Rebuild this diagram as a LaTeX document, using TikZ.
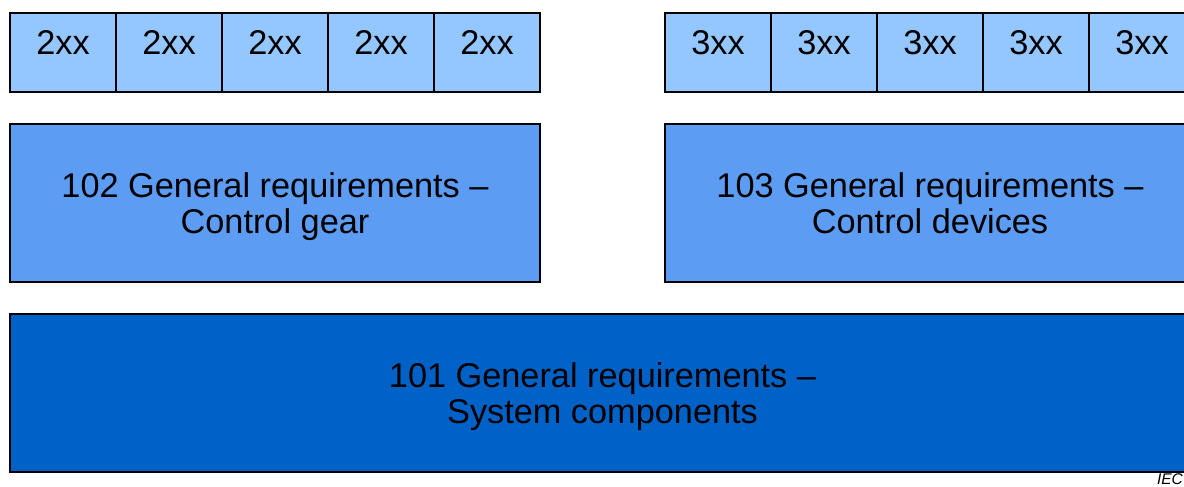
\documentclass[tikz,border=0pt]{standalone}
\usepackage{xcolor}
\usepackage{fontspec}
\setmainfont{Liberation Sans}
\definecolor{partlight}{RGB}{148,199,255}
\definecolor{partmid}{RGB}{93,156,243}
\definecolor{partdark}{RGB}{0,97,198}

\begin{document}
\begin{tikzpicture}[anchor=center, inner sep=0pt,
                    cell/.style={rectangle, draw, line width=1.2pt, fill=partlight, minimum width=2.65cm, minimum height=1.975cm, text depth=0.48cm},
                    general/.style={rectangle, draw, line width=1.2pt, fill=partmid, minimum width=13.25cm, minimum height=3.95cm, align=center, text depth=0pt},
                    base/.style={rectangle, draw, line width=1.2pt, fill=partdark, minimum width=29.625cm, minimum height=3.95cm, align=center, text depth=0pt}]
                            \useasboundingbox (0, 0) rectangle (29.6, -12.15);
                            \fontsize{24.4pt}{25.6pt}\selectfont

                            \node (a1) at (1.575, -1.3125) [cell] {2xx};
                            \node (a2) at (4.225, -1.3125) [cell] {2xx};
                            \node (a3) at (6.875, -1.3125) [cell] {2xx};
                            \node (a4) at (9.525, -1.3125) [cell] {2xx};
                            \node (a5) at (12.175, -1.3125) [cell] {2xx};

                            \node (b1) at (17.95, -1.3125) [cell] {3xx};
                            \node (b2) at (20.6, -1.3125) [cell] {3xx};
                            \node (b3) at (23.25, -1.3125) [cell] {3xx};
                            \node (b4) at (25.9, -1.3125) [cell] {3xx};
                            \node (b5) at (28.55, -1.3125) [cell] {3xx};

                            \node (gear) at (6.875, -5.075) [general] {102 General requirements --\\Control gear};
                            \node (devices) at (23.25, -5.075) [general] {103 General requirements --\\Control devices};

                            \node (system) at (15.0625, -9.825) [base] {101 General requirements --\\System components};

                            \node (iec) at (28.92, -12.12) [anchor=south west, font=\fontsize{11pt}{12pt}\selectfont\itshape] {IEC};
                        \end{tikzpicture}
\end{document}
